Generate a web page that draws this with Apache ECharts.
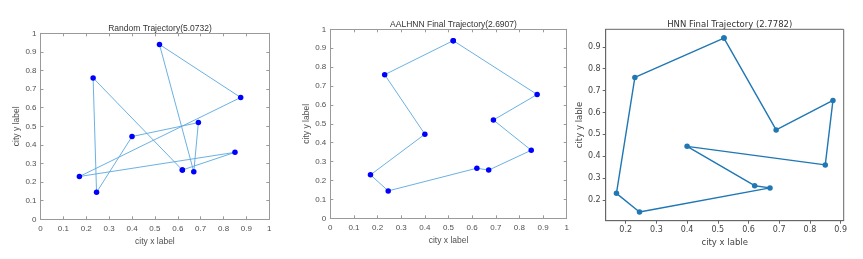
<!DOCTYPE html>
<html><head><meta charset="utf-8">
<script src="https://cdn.jsdelivr.net/npm/echarts@6/dist/echarts.min.js"></script>
<style>html,body{margin:0;padding:0;background:#fff}#c{width:863px;height:259px}</style>
</head><body><div id="c"></div>
<script>
// City coordinates (A..J)
const cityX = [0.52, 0.23, 0.875, 0.69, 0.40, 0.85, 0.62, 0.67, 0.17, 0.245];
const cityY = [0.94, 0.76, 0.655, 0.52, 0.445, 0.36, 0.265, 0.255, 0.23, 0.145];
// Tours (indices into city arrays)
const randomOrder = [6, 1, 9, 4, 3, 7, 0, 2, 8, 5, 6];
const aalhnnOrder = [0, 2, 3, 5, 7, 6, 9, 8, 4, 1, 0];
const hnnOrder    = [0, 3, 2, 5, 4, 6, 7, 9, 8, 1, 0];
const titles = ['Random Trajectory(5.0732)', 'AALHNN Final Trajectory(2.6907)', 'HNN Final Trajectory (2.7782)'];
const xNames = ['city x label', 'city x label', 'city x lable'];
const yNames = ['city y label', 'city y label', 'city y lable'];
const hnnTicksX = [0.2, 0.3, 0.4, 0.5, 0.6, 0.7, 0.8, 0.9];
const hnnTicksY = [0.2, 0.3, 0.4, 0.5, 0.6, 0.7, 0.8, 0.9];

const tour = o => o.map(i => [cityX[i], cityY[i]]);
const font = 'Liberation Sans, Arial, sans-serif';
const matGray = '#9a9a9a';
const txt = '#505050';

const grids = [
  {left: 40.5, top: 33.3, width: 228.8, height: 186},
  {left: 330.3, top: 29.3, width: 236.4, height: 189},
  {left: 605.7, top: 29.3, width: 238, height: 191.4, show: true, borderColor: '#666', borderWidth: 1}
];

const xAxis = [], yAxis = [];
function matAxes(g) {
  const base = {type: 'value', min: 0, max: 1, interval: 0.1, gridIndex: g, splitLine: {show: false},
    axisLine: {show: true, onZero: false, lineStyle: {color: matGray, width: 1}},
    axisTick: {show: true, inside: true, length: 3, lineStyle: {color: matGray}}};
  xAxis.push(Object.assign({}, base, {position: 'bottom', name: xNames[g], nameLocation: 'middle', nameGap: 14,
    nameTextStyle: {fontSize: 8.5, color: txt, fontFamily: font},
    axisLabel: {fontSize: 8, color: txt, fontFamily: font, margin: 5, formatter: v => String(+v.toFixed(1))}}));
  xAxis.push(Object.assign({}, base, {position: 'top', axisLabel: {show: false}}));
  yAxis.push(Object.assign({}, base, {position: 'left', name: yNames[g], nameLocation: 'middle', nameGap: 13,
    nameTextStyle: {fontSize: 8.5, color: txt, fontFamily: font},
    axisLabel: {fontSize: 8, color: txt, fontFamily: font, margin: 4, formatter: v => String(+v.toFixed(1))}}));
  yAxis.push(Object.assign({}, base, {position: 'right', axisLabel: {show: false}}));
}
matAxes(0); matAxes(1);
// matplotlib panel
xAxis.push({type: 'value', gridIndex: 2, min: 0.135, max: 0.91, splitLine: {show: false},
  axisLine: {show: true, onZero: false, lineStyle: {color: '#666'}},
  axisTick: {show: true, inside: false, length: 3, lineStyle: {color: '#666'}, customValues: hnnTicksX},
  axisLabel: {fontSize: 8, color: '#444', fontFamily: 'DejaVu Sans, sans-serif', margin: 5, customValues: hnnTicksX, formatter: v => String(+v.toFixed(1))},
  name: xNames[2], nameLocation: 'middle', nameGap: 14, nameTextStyle: {fontSize: 8.5, color: '#444', fontFamily: 'DejaVu Sans, sans-serif'}});
yAxis.push({type: 'value', gridIndex: 2, min: 0.105, max: 0.98, splitLine: {show: false},
  axisLine: {show: true, onZero: false, lineStyle: {color: '#666'}},
  axisTick: {show: true, inside: false, length: 3, lineStyle: {color: '#666'}, customValues: hnnTicksY},
  axisLabel: {fontSize: 8, color: '#444', fontFamily: 'DejaVu Sans, sans-serif', margin: 5, customValues: hnnTicksY, formatter: v => String(+v.toFixed(1))},
  name: yNames[2], nameLocation: 'middle', nameGap: 15, nameTextStyle: {fontSize: 8.5, color: '#444', fontFamily: 'DejaVu Sans, sans-serif'}});

const matSeries = (g, order) => ({type: 'line', xAxisIndex: g * 2, yAxisIndex: g * 2, data: tour(order),
  symbol: 'circle', symbolSize: 5.5, itemStyle: {color: '#0000ff'},
  lineStyle: {color: '#5aa8e0', width: 0.9}});

const option = {
  animation: false,
  title: [
    {text: titles[0], left: 155, top: 19, textAlign: 'center', textStyle: {fontSize: 8.5, fontWeight: 'normal', color: '#333', fontFamily: font}},
    {text: titles[1], left: 448.5, top: 15.5, textAlign: 'center', textStyle: {fontSize: 8.5, fontWeight: 'normal', color: '#333', fontFamily: font}},
    {text: titles[2], left: 724.7, top: 15, textAlign: 'center', textStyle: {fontSize: 8.5, fontWeight: 'normal', color: '#333', fontFamily: 'DejaVu Sans, sans-serif'}}
  ],
  grid: grids,
  xAxis, yAxis,
  series: [
    matSeries(0, randomOrder),
    matSeries(1, aalhnnOrder),
    {type: 'line', xAxisIndex: 4, yAxisIndex: 4, data: tour(hnnOrder), symbol: 'circle', symbolSize: 5.5,
      itemStyle: {color: '#1f77b4'}, lineStyle: {color: '#1f77b4', width: 1.4}}
  ]
};
echarts.init(document.getElementById('c'), null, {renderer: 'canvas'}).setOption(option);
</script></body></html>
